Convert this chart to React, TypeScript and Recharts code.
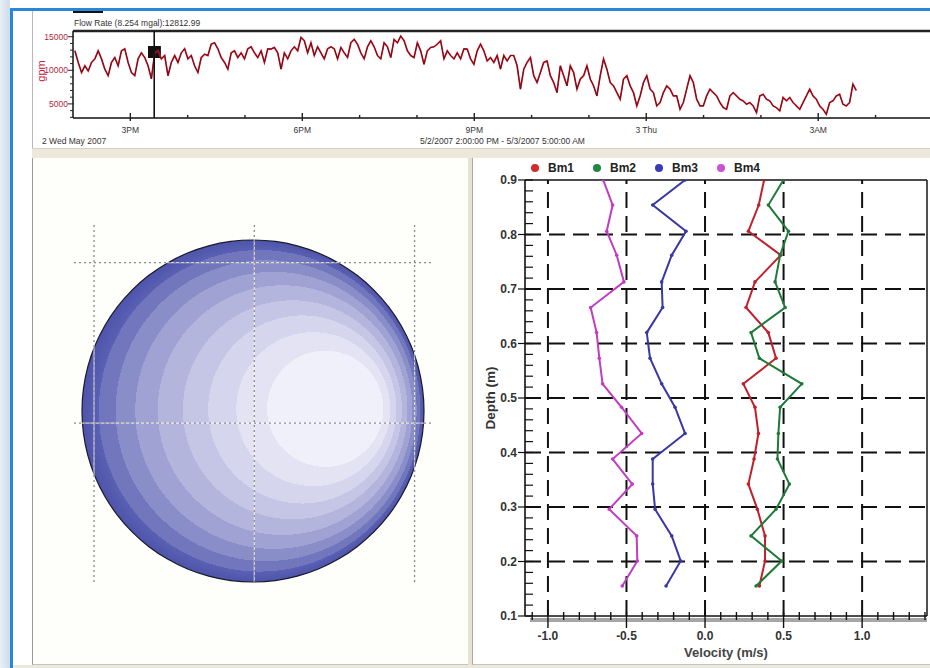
import React from 'react';
import {
  LineChart, Line, XAxis, YAxis, ReferenceLine, ReferenceArea,
  ScatterChart, Scatter, Legend, PieChart, Pie, ComposedChart,
} from 'recharts';

// ---------- Flow rate time series (minutes after 5/2/2007 2:00 PM) ----------
const FLOW_START_MIN = 2;
const FLOW_STEP_MIN = 3.48;
const flowRateGpm: number[] = [
  12900, 11170, 9670, 10670, 9900, 11170, 11700, 12900, 11700, 10170,
  9200, 11170, 11900, 10670, 12900, 13200, 11170, 9670, 9200, 11700,
  12600, 11900, 10670, 8730, 12600, 12900, 11700, 12200, 9200, 11170,
  12200, 11170, 12600, 13200, 11700, 12200, 10670, 9670, 11900, 12400,
  12200, 13900, 14100, 13200, 11900, 11170, 10170, 12600, 12900, 11900,
  12600, 11700, 13200, 13500, 12600, 11900, 12900, 11170, 13200,
  13160, 13400, 12600, 10170, 12600, 11700, 12900, 13500, 12900, 14900,
  14400, 12600, 14100, 12200, 13500, 12600, 11700, 13200, 13500, 13200,
  11700, 13400, 12600, 11900, 14100, 14600, 13900, 12600, 11700, 13500,
  14400, 13500, 12200, 11700, 14100, 13500, 11900, 14600, 14100, 15100,
  14400, 12900, 12200, 11900, 14100, 12900, 10900, 12900, 13400, 13500,
  13900, 14400, 11700, 12900, 12200, 11700, 12600, 11700, 13200,
  13160, 11700, 10900, 12900, 13900, 12900, 11400, 11900, 11170, 12200,
  10170, 12200, 11400, 12200, 12200, 10670, 7200, 10170, 11170, 11900,
  9200, 8180, 9670, 11170, 11400, 9200, 8180, 6680, 10670, 9200,
  7690, 10670, 9670, 7200, 8700, 9200, 10670, 8700, 7690, 6190,
  9200, 11700, 10170, 8180, 7690, 6680, 5700, 8700, 9200, 7690,
  6680, 4700, 6190, 8180, 9200, 7200, 6680, 4700,
  5200, 6680, 7690, 7200, 6190, 6190, 4200, 5200, 7200, 9200,
  8180, 5700, 4700, 4700, 6190, 7200, 6680, 6190, 5200, 4450,
  4200, 6190, 6680, 6190, 5700, 5450, 4950, 5200, 4700, 3700,
  6190, 6430, 5700, 5450, 4700, 4450, 3950, 5950, 5450, 5950,
  5200, 4700, 4200, 5200, 6190, 7200, 6190, 5700, 4700, 4200,
  3450, 5200, 5450, 6190, 6430, 4950, 4700, 5200, 7940, 7000,
];
const flowData = flowRateGpm.map((v, i) => ({ t: FLOW_START_MIN + i * FLOW_STEP_MIN, gpm: v }));

const timeTicks = [60, 120, 180, 240, 300, 360, 420, 480, 540, 600, 660, 720, 780, 840];
const timeTickLabels: Record<number, string> = { 60: '3PM', 240: '6PM', 420: '9PM', 600: '3 Thu', 780: '3AM' };
const gpmTicks = [3000, 4000, 5000, 6000, 7000, 8000, 9000, 10000, 11000, 12000, 13000, 14000, 15000];
const gpmLabels = [5000, 10000, 15000];
const cursorMin = 85;
const cursorBox = { t1: 78.5, t2: 92, g1: 11830, g2: 13620 };

// ---------- Velocity profile ----------
const depthM = [0.155, 0.201, 0.247, 0.296, 0.342, 0.388, 0.435, 0.483, 0.526, 0.573, 0.620, 0.666, 0.713, 0.762, 0.806, 0.854, 0.900];
const bm1 = [0.346, 0.382, 0.382, 0.333, 0.276, 0.312, 0.340, 0.318, 0.244, 0.452, 0.403, 0.261, 0.318, 0.482, 0.276, 0.342, 0.376];
const bm2 = [0.325, 0.488, 0.293, 0.452, 0.537, 0.461, 0.467, 0.478, 0.616, 0.346, 0.293, 0.510, 0.446, 0.478, 0.531, 0.403, 0.499];
const bm3 = [-0.248, -0.155, -0.212, -0.318, -0.333, -0.333, -0.127, -0.191, -0.276, -0.350, -0.371, -0.270, -0.276, -0.212, -0.121, -0.333, -0.127];
const bm4 = [-0.527, -0.431, -0.435, -0.610, -0.463, -0.588, -0.403, -0.531, -0.652, -0.673, -0.690, -0.728, -0.516, -0.562, -0.626, -0.588, -0.648];

const seriesDefs = [
  { name: 'Bm1', values: bm1, line: '#c0202c', dot: '#d42a2a' },
  { name: 'Bm2', values: bm2, line: '#1f7a3a', dot: '#1c8a40' },
  { name: 'Bm3', values: bm3, line: '#3838a4', dot: '#3a3ab8' },
  { name: 'Bm4', values: bm4, line: '#c23cc2', dot: '#d050d0' },
];

const velTicks = Array.from({ length: 26 }, (_, i) => Math.round(-11 + i) / 10);
const velLabels = [-1, -0.5, 0, 0.5, 1];
const velGrid = [-1, -0.5, 0, 0.5, 1];
const depthTicks = Array.from({ length: 41 }, (_, i) => Math.round(10 + 2 * i) / 100);
const depthGrid = [0.2, 0.3, 0.4, 0.5, 0.6, 0.7, 0.8];
const VEL_DOMAIN: [number, number] = [-1.146, 1.413];

// ---------- Pipe section ----------
const pipeSection = [{ name: 'section', value: 1 }];
const sectionGridX = [-1, 0, 1];
const sectionGridY = [0, 1];

const FONT = '"Liberation Sans", Arial, sans-serif';

const GpmTick = (p: any) => {
  const v = p.payload.value;
  const major = gpmLabels.includes(v);
  return (
    <g>
      <line x1={p.x - (major ? 5 : 3)} x2={p.x + (major ? 1 : 0)} y1={p.y} y2={p.y} stroke="#222" strokeWidth={1} />
      {major && (
        <text x={p.x - 5} y={p.y + 3} textAnchor="end" fontSize={8.5} fontFamily={FONT} fill="#b0283c">{v}</text>
      )}
    </g>
  );
};

const TimeTick = (p: any) => {
  const v = p.payload.value;
  const lab = timeTickLabels[v];
  return (
    <g>
      <line x1={p.x} x2={p.x} y1={p.y - (lab ? 5 : 3)} y2={p.y + (lab ? 3 : 0)} stroke="#222" strokeWidth={1.4} />
      {lab && (
        <text x={p.x} y={p.y + 15} textAnchor="middle" fontSize={8.5} fontFamily={FONT} fill="#333">{lab}</text>
      )}
    </g>
  );
};

const VelTick = (p: any) => {
  const v = p.payload.value;
  const major = velLabels.some((l) => Math.abs(l - v) < 1e-6);
  return (
    <g>
      <line x1={p.x} x2={p.x} y1={p.y - 4} y2={p.y + (major ? 12 : 4)} stroke="#111" strokeWidth={1.4} />
      {major && (
        <text x={p.x} y={p.y + 24} textAnchor="middle" fontSize={12} fontWeight="bold" fontFamily={FONT} fill="#333">
          {v.toFixed(1)}
        </text>
      )}
    </g>
  );
};

const DepthTick = (p: any) => {
  const v = p.payload.value;
  const major = Math.abs(v * 10 - Math.round(v * 10)) < 1e-6;
  return (
    <g>
      <line x1={p.x - (major ? 7 : 0)} x2={p.x + 8} y1={p.y} y2={p.y} stroke="#111" strokeWidth={1.2} />
      {major && (
        <text x={p.x - 8} y={p.y + 4} textAnchor="end" fontSize={12} fontWeight="bold" fontFamily={FONT} fill="#333">
          {v.toFixed(1)}
        </text>
      )}
    </g>
  );
};

const LegendContent = (props: any) => {
  const payload = props.payload || [];
  return (
    <div style={{ display: 'flex', fontFamily: FONT, fontSize: 12, fontWeight: 'bold', color: '#222', lineHeight: '14px' }}>
      {payload.map((e: any, i: number) => (
        <div key={i} style={{ width: 62, display: 'flex', alignItems: 'center' }}>
          <span style={{ display: 'inline-block', width: 8, height: 8, borderRadius: 4, background: seriesDefs[i]?.dot || e.color, marginRight: 9 }} />
          <span>{e.value}</span>
        </div>
      ))}
    </div>
  );
};

const abs = (l: number, t: number, w: number, h: number, extra: React.CSSProperties = {}): React.CSSProperties => ({
  position: 'absolute', left: l, top: t, width: w, height: h, ...extra,
});

export default function App() {
  return (
    <div style={{ position: 'absolute', left: 0, top: 0, width: 930, height: 668, overflow: 'hidden', background: '#fff', fontFamily: FONT }}>
      {/* window chrome */}
      <div style={abs(0, 0, 10, 668, { background: 'linear-gradient(to right, #e9f0f6, #cddcea)' })} />
      <div style={abs(10, 8, 3, 660, { background: '#2a86d8' })} />
      <div style={abs(10, 8, 920, 3, { background: '#2a86d8' })} />
      <div style={abs(32, 11, 1, 137, { background: '#b8b8b8' })} />
      <div style={abs(73, 11, 30, 2, { background: '#111' })} />
      <div style={abs(32, 148, 898, 10, { background: '#ece9dc', borderTop: '1px solid #d6d2c2', boxSizing: 'border-box' })} />
      <div style={abs(32, 158, 436, 507, { background: '#fefefb', borderLeft: '1px solid #9a9a9a', borderBottom: '1px solid #c4c4c4', boxSizing: 'border-box' })} />
      <div style={abs(468, 158, 4, 510, { background: '#e6e3d6' })} />
      <div style={abs(472, 158, 458, 507, { background: '#fff', borderLeft: '1px solid #aaa', borderBottom: '1px solid #c4c4c4', boxSizing: 'border-box' })} />
      <div style={abs(13, 665, 917, 3, { background: '#ece9dc' })} />

      {/* ---------- top flow-rate chart ---------- */}
      <div style={abs(74, 18, 200, 10, { fontSize: 8.5, lineHeight: '10px', color: '#333', whiteSpace: 'nowrap' })}>
        Flow Rate (8.254 mgal):12812.99
      </div>
      <div style={abs(41, 71, 0, 0)}>
        <div style={{ position: 'absolute', transform: 'translate(-50%, -50%) rotate(-90deg)', fontSize: 11, color: '#c0203a', whiteSpace: 'nowrap' }}>gpm</div>
      </div>
      <div style={abs(42, 136, 120, 10, { fontSize: 8.5, lineHeight: '10px', color: '#333', whiteSpace: 'nowrap' })}>2 Wed May 2007</div>
      <div style={abs(420, 136, 220, 10, { fontSize: 8.5, lineHeight: '10px', color: '#333', whiteSpace: 'nowrap' })}>
        5/2/2007 2:00:00 PM - 5/3/2007 5:00:00 AM
      </div>
      <div style={abs(32, 11, 898, 137)}>
        <LineChart width={898} height={137} data={flowData} margin={{ top: 20, right: 0, bottom: 0, left: 0 }}>
          <XAxis
            dataKey="t" type="number" domain={[0, 897]} allowDataOverflow ticks={timeTicks} interval={0}
            tick={<TimeTick />} tickLine={false} tickSize={0} tickMargin={0} height={30}
            axisLine={{ stroke: '#111', strokeWidth: 1.5 }}
          />
          <YAxis
            type="number" domain={[2900, 15850]} allowDataOverflow ticks={gpmTicks} interval={0}
            tick={<GpmTick />} tickLine={false} tickSize={0} tickMargin={0} width={41}
            axisLine={{ stroke: '#111', strokeWidth: 1.5 }}
          />
          <ReferenceLine y={15850} stroke="#222" strokeWidth={2.5} />
          <ReferenceArea x1={cursorBox.t1} x2={cursorBox.t2} y1={cursorBox.g1} y2={cursorBox.g2} fill="#111" fillOpacity={1} stroke="none" />
          <Line type="linear" dataKey="gpm" stroke="#e3172d" strokeWidth={1.7} dot={false} isAnimationActive={false} />
          <Line type="linear" dataKey="gpm" stroke="#3a1212" strokeWidth={0.9} strokeOpacity={0.85} dot={false} isAnimationActive={false} />
          <ReferenceLine x={cursorMin} stroke="#111" strokeWidth={1.6} />
        </LineChart>
      </div>

      {/* ---------- left: pipe cross-section ---------- */}
      <div style={abs(73, 231, 360, 360)}>
        <PieChart width={360} height={360} margin={{ top: 0, right: 0, bottom: 0, left: 0 }}>
          <defs>
            <radialGradient id="pipeGrad" cx="0.5" cy="0.5" r="0.5" fx="0.82" fy="0.49">
              <stop offset="0" stopColor="#f0f0fa" />
              <stop offset="0.34" stopColor="#f0f0fa" />
              <stop offset="0.34" stopColor="#e3e3f4" />
              <stop offset="0.45" stopColor="#e3e3f4" />
              <stop offset="0.45" stopColor="#d5d5ed" />
              <stop offset="0.55" stopColor="#d5d5ed" />
              <stop offset="0.55" stopColor="#c5c6e6" />
              <stop offset="0.64" stopColor="#c5c6e6" />
              <stop offset="0.64" stopColor="#b3b5dc" />
              <stop offset="0.73" stopColor="#b3b5dc" />
              <stop offset="0.73" stopColor="#9fa2d2" />
              <stop offset="0.81" stopColor="#9fa2d2" />
              <stop offset="0.81" stopColor="#898dc8" />
              <stop offset="0.88" stopColor="#898dc8" />
              <stop offset="0.88" stopColor="#7176bd" />
              <stop offset="0.94" stopColor="#7176bd" />
              <stop offset="0.94" stopColor="#5a60b2" />
              <stop offset="1" stopColor="#4e54ab" />
            </radialGradient>
          </defs>
          <Pie data={pipeSection} dataKey="value" cx={180} cy={180} outerRadius={171} innerRadius={0}
            startAngle={90} endAngle={450} fill="url(#pipeGrad)" stroke="none" isAnimationActive={false} />
          <Pie data={pipeSection} dataKey="value" cx={180} cy={180} outerRadius={171.6} innerRadius={170.4}
            startAngle={90} endAngle={450} fill="#1a1a2a" stroke="none" isAnimationActive={false} />
        </PieChart>
      </div>
      <div style={abs(74, 224, 359, 358)}>
        <ComposedChart width={359} height={358} margin={{ top: 0, right: 0, bottom: 0, left: 0 }}>
          <XAxis type="number" dataKey="x" domain={[-1.125, 1.115]} allowDataOverflow hide />
          <YAxis type="number" dataKey="y" domain={[-0.99, 1.24]} allowDataOverflow hide />
          <Scatter data={[{ x: 0, y: 0 }]} shape={() => <g />} isAnimationActive={false} />
          {sectionGridX.map((v) => (
            <ReferenceLine key={'wx' + v} x={v} stroke="#ffffff" strokeOpacity={0.7} strokeWidth={1.2} />
          ))}
          {sectionGridY.map((v) => (
            <ReferenceLine key={'wy' + v} y={v} stroke="#ffffff" strokeOpacity={0.7} strokeWidth={1.2} />
          ))}
          {sectionGridX.map((v) => (
            <ReferenceLine key={'gx' + v} x={v} stroke="#8a8a8a" strokeWidth={1.3} strokeDasharray="2 3" />
          ))}
          {sectionGridY.map((v) => (
            <ReferenceLine key={'gy' + v} y={v} stroke="#8a8a8a" strokeWidth={1.3} strokeDasharray="2 3" />
          ))}
        </ComposedChart>
      </div>

      {/* ---------- right: velocity profile ---------- */}
      <div style={abs(530, 618, 397, 4, { background: '#a6a6a6' })} />
      <div style={abs(490, 398, 0, 0)}>
        <div style={{ position: 'absolute', transform: 'translate(-50%, -50%) rotate(-90deg)', fontSize: 13.5, fontWeight: 'bold', color: '#333', whiteSpace: 'nowrap' }}>
          Depth (m)
        </div>
      </div>
      <div style={abs(470, 158, 460, 507)}>
        <ScatterChart width={460} height={507} margin={{ top: 22, right: 3, bottom: 0, left: 0 }}>
          <XAxis
            type="number" dataKey="v" domain={VEL_DOMAIN} allowDataOverflow ticks={velTicks} interval={0}
            tick={<VelTick />} tickLine={false} tickSize={0} tickMargin={0} height={49}
            axisLine={{ stroke: '#111', strokeWidth: 1.6 }}
            label={{ value: 'Velocity (m/s)', position: 'insideBottom', offset: 8, fill: '#444', fontSize: 13, fontWeight: 'bold', fontFamily: FONT }}
          />
          <YAxis
            type="number" dataKey="d" domain={[0.1, 0.9]} allowDataOverflow ticks={depthTicks} interval={0}
            tick={<DepthTick />} tickLine={false} tickSize={0} tickMargin={0} width={55}
            axisLine={{ stroke: '#111', strokeWidth: 1.6 }}
          />
          {velGrid.map((v) => (
            <ReferenceLine key={'vx' + v} x={v} stroke="#111" strokeWidth={2} strokeDasharray="16 8" />
          ))}
          {depthGrid.map((v) => (
            <ReferenceLine key={'dy' + v} y={v} stroke="#111" strokeWidth={2} strokeDasharray="16 8" />
          ))}
          <ReferenceLine y={0.9} stroke="#111" strokeWidth={1.6} />
          <ReferenceLine x={VEL_DOMAIN[1]} stroke="#222" strokeWidth={1.6} />
          <Legend
            layout="horizontal" verticalAlign="middle" align="center"
            wrapperStyle={{ top: 3, left: 61, width: 270 }}
            content={<LegendContent />}
          />
          {seriesDefs.map((s) => (
            <Scatter
              key={s.name}
              name={s.name}
              data={depthM.map((d, i) => ({ v: s.values[i], d }))}
              fill={s.line}
              line={{ stroke: s.line, strokeWidth: 2 }}
              shape={(p: any) => <circle cx={p.cx} cy={p.cy} r={1.8} fill={s.line} />}
              isAnimationActive={false}
            />
          ))}
        </ScatterChart>
      </div>
    </div>
  );
}
